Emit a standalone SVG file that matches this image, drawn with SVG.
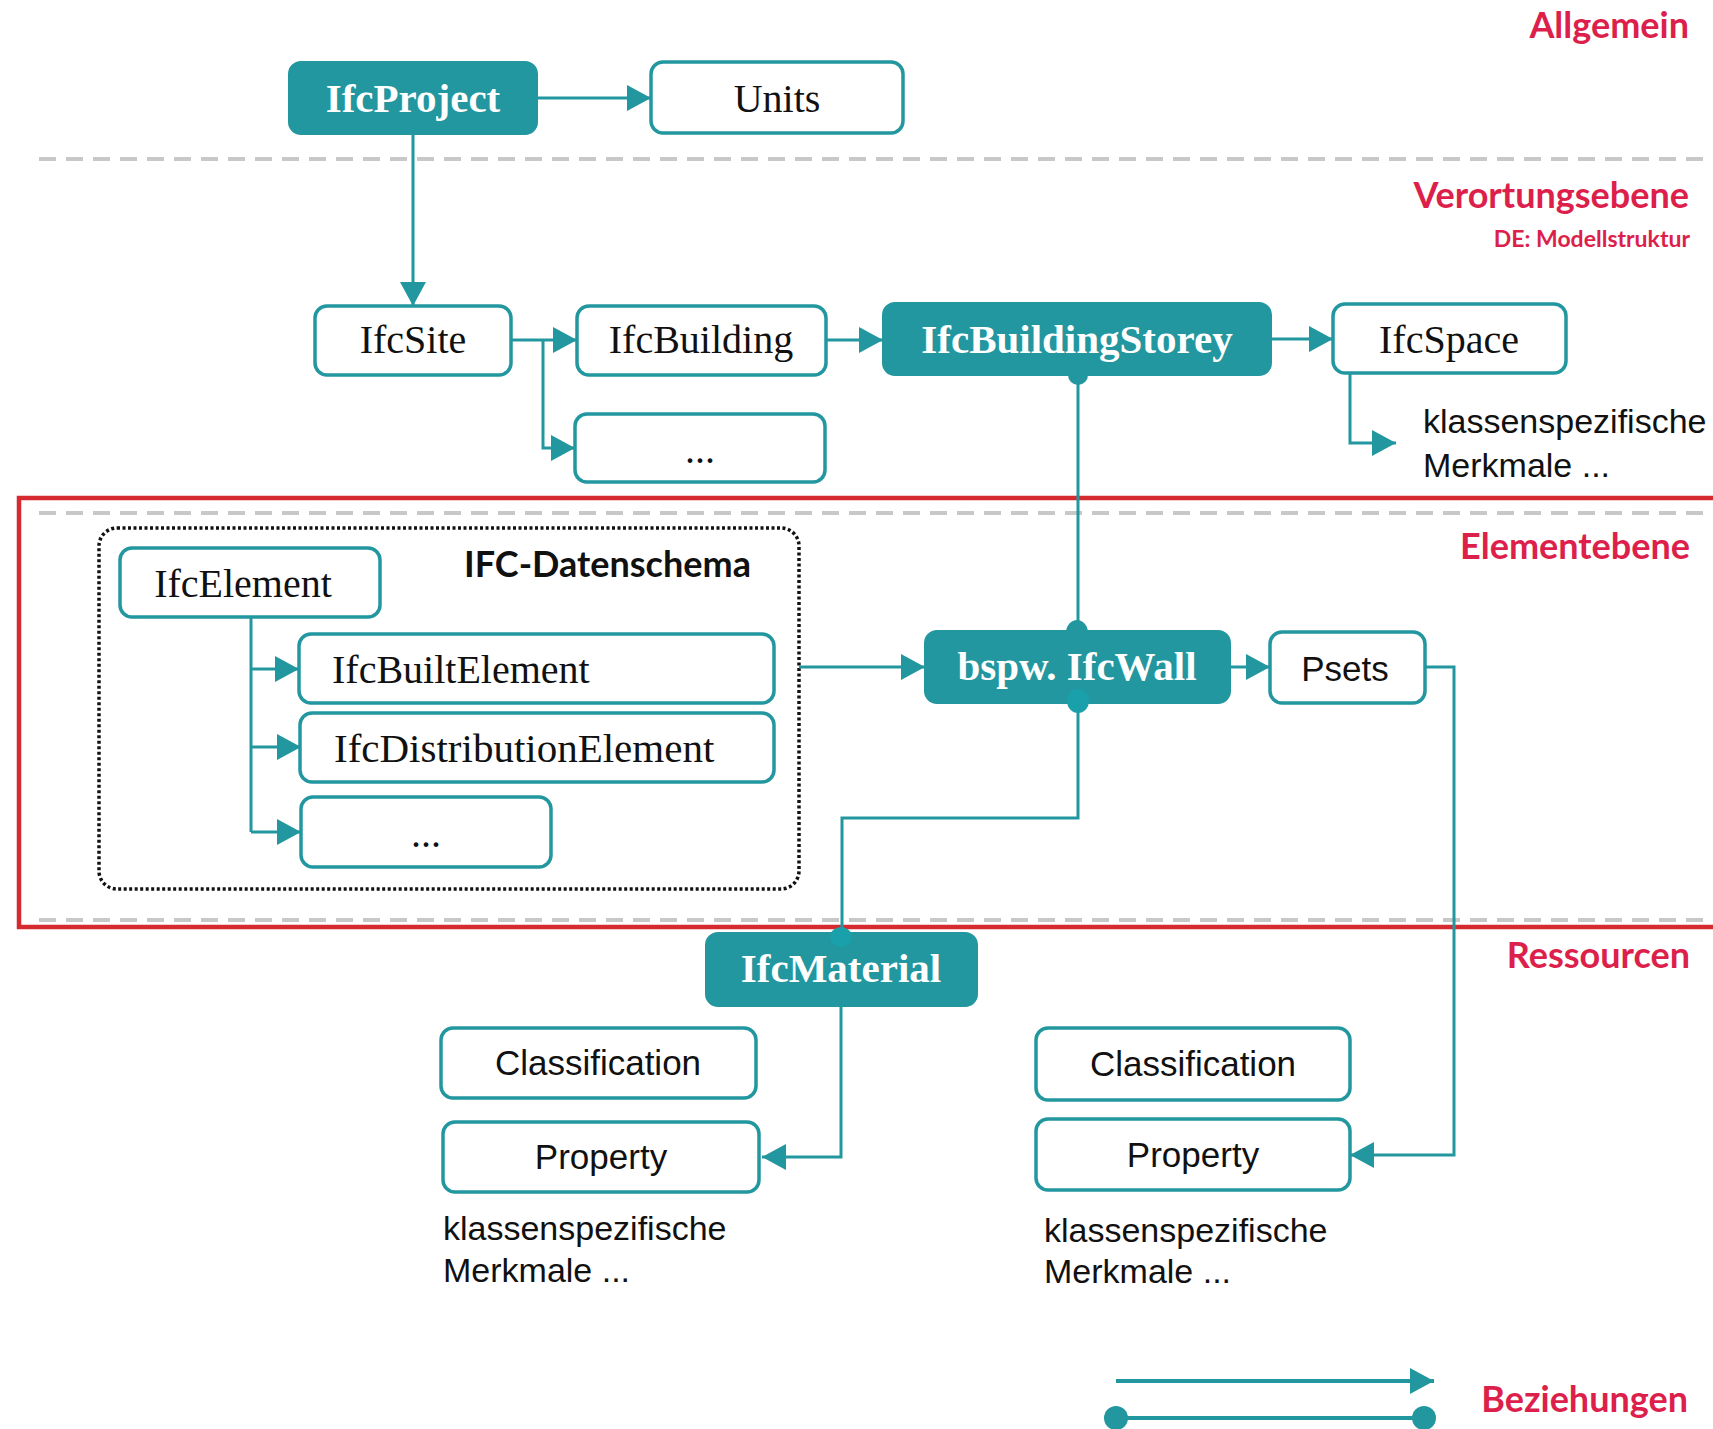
<svg xmlns="http://www.w3.org/2000/svg" width="1713" height="1429" viewBox="0 0 1713 1429">
<style>
.bg{fill:#ffffff}
.sep{stroke:#c8c8c8;stroke-width:4;stroke-dasharray:17 10;fill:none}
.zone{stroke:#d42a30;stroke-width:4.5;fill:none}
.box{fill:#ffffff;stroke:#23979f;stroke-width:3.5}
.fbox{fill:#23979f;stroke:#23979f;stroke-width:2}
.dotted{fill:none;stroke:#111111;stroke-width:3.5;stroke-dasharray:3 2.5}
.serif{font-family:"Liberation Serif","Times New Roman",serif;font-size:40px;fill:#111111}
.serifb{font-family:"Liberation Serif","Times New Roman",serif;font-size:41px;font-weight:bold;fill:#ffffff}
.sans{font-family:"Liberation Sans",Arial,sans-serif;font-size:34px;fill:#111111}
.head{font-family:Lato,"Liberation Sans",sans-serif;font-weight:bold;font-size:36px;fill:#dc1f4b}
.subhead{font-family:Lato,"Liberation Sans",sans-serif;font-weight:bold;font-size:23px;fill:#dc1f4b}
.title{font-family:Lato,"Liberation Sans",sans-serif;font-weight:bold;font-size:36px;fill:#111111}
.c{fill:none;stroke:#23979f;stroke-width:3}
.dot{fill:#1aa0ab}
.mid{text-anchor:middle}
.end{text-anchor:end}
</style>
<defs>
<marker id="arr" markerUnits="userSpaceOnUse" markerWidth="24" markerHeight="26" viewBox="0 0 24 26" refX="24" refY="13" orient="auto">
<path d="M0,0 L24,13 L0,26 Z" fill="#23979f"/>
</marker>
</defs>
<rect class="bg" x="0" y="0" width="1713" height="1429"/>

<g id="layers">
<line class="sep" x1="39" y1="159" x2="1713" y2="159"/>
<line class="sep" x1="39" y1="513" x2="1713" y2="513"/>
<line class="sep" x1="39" y1="920" x2="1713" y2="920"/>
<rect class="zone" x="19" y="498" width="1710" height="429"/>
<text class="head end" x="1689" y="38">Allgemein</text>
<text class="head end" x="1689" y="208">Verortungsebene</text>
<text class="subhead end" x="1690" y="247">DE: Modellstruktur</text>
<text class="head end" x="1690" y="559">Elementebene</text>
<text class="head end" x="1690" y="968">Ressourcen</text>
<text class="head end" x="1688" y="1412">Beziehungen</text>
</g>

<g id="schema">
<rect class="dotted" x="99" y="528" width="700" height="361" rx="18"/>
<text class="title" x="464" y="577">IFC-Datenschema</text>
</g>

<g id="connectors">
<path class="c" d="M537,98 H651" marker-end="url(#arr)"/>
<path class="c" d="M413,134 V306" marker-end="url(#arr)"/>
<path class="c" d="M511,340 H577" marker-end="url(#arr)"/>
<path class="c" d="M543,340 V448 H575" marker-end="url(#arr)"/>
<path class="c" d="M826,340 H883" marker-end="url(#arr)"/>
<path class="c" d="M1271,339 H1333" marker-end="url(#arr)"/>
<path class="c" d="M1350,373 V443 H1396" marker-end="url(#arr)"/>
<path class="c" d="M1078,375 V631"/>
<path class="c" d="M251,617 V832"/>
<path class="c" d="M251,669 H299" marker-end="url(#arr)"/>
<path class="c" d="M251,747 H301" marker-end="url(#arr)"/>
<path class="c" d="M251,832 H301" marker-end="url(#arr)"/>
<path class="c" d="M799,667 H925" marker-end="url(#arr)"/>
<path class="c" d="M1230,667 H1270" marker-end="url(#arr)"/>
<path class="c" d="M1425,667 H1454 V1155 H1350" marker-end="url(#arr)"/>
<path class="c" d="M1078,703 V818 H842 V933"/>
<path class="c" d="M841,1006 V1157 H762" marker-end="url(#arr)"/>
<path class="c" d="M1116,1381 H1434" marker-end="url(#arr)" style="stroke-width:4"/>
<path class="c" d="M1116,1418 H1424" style="stroke-width:4"/>
<ellipse class="dot" cx="1116" cy="1418" rx="12" ry="12" style="fill:#23979f"/>
<ellipse class="dot" cx="1424" cy="1418" rx="12" ry="12" style="fill:#23979f"/>
</g>

<g id="IfcProject"><rect class="fbox" x="289" y="62" width="248" height="72" rx="12"/><text class="serifb mid" x="413" y="112">IfcProject</text></g>
<g id="Units"><rect class="box" x="651" y="62" width="252" height="71" rx="12"/><text class="serif mid" x="777" y="112">Units</text></g>
<g id="IfcSite"><rect class="box" x="315" y="306" width="196" height="69" rx="12"/><text class="serif mid" x="413" y="353">IfcSite</text></g>
<g id="IfcBuilding"><rect class="box" x="577" y="306" width="249" height="69" rx="12"/><text class="serif mid" x="701" y="353">IfcBuilding</text></g>
<g id="SiteMore"><rect class="box" x="575" y="414" width="250" height="68" rx="12"/><text class="serif mid" x="700" y="463">...</text></g>
<g id="IfcBuildingStorey"><rect class="fbox" x="883" y="303" width="388" height="72" rx="12"/><text class="serifb mid" x="1077" y="353">IfcBuildingStorey</text><ellipse class="dot" cx="1078" cy="375" rx="10" ry="10" style="fill:#23979f"/></g>
<g id="IfcSpace"><rect class="box" x="1333" y="304" width="233" height="69" rx="12"/><text class="serif mid" x="1449" y="353">IfcSpace</text></g>
<g id="SpaceNote"><text class="sans" x="1423" y="433">klassenspezifische</text><text class="sans" x="1423" y="477">Merkmale ...</text></g>
<g id="IfcElement"><rect class="box" x="120" y="548" width="260" height="69" rx="12"/><text class="serif mid" x="243" y="597">IfcElement</text></g>
<g id="IfcBuiltElement"><rect class="box" x="299" y="634" width="475" height="69" rx="12"/><text class="serif" x="332" y="683">IfcBuiltElement</text></g>
<g id="IfcDistributionElement"><rect class="box" x="300" y="713" width="474" height="69" rx="12"/><text class="serif" x="334" y="762" style="font-size:41px">IfcDistributionElement</text></g>
<g id="ElementMore"><rect class="box" x="301" y="797" width="250" height="70" rx="12"/><text class="serif mid" x="426" y="847">...</text></g>
<g id="IfcWall"><rect class="fbox" x="925" y="631" width="305" height="72" rx="12"/><text class="serifb mid" x="1077" y="680">bspw. IfcWall</text><ellipse class="dot" cx="1077" cy="633" rx="11" ry="13" style="fill:#23979f"/><ellipse class="dot" cx="1078" cy="701" rx="11" ry="12"/></g>
<g id="Psets"><rect class="box" x="1270" y="632" width="155" height="71" rx="12"/><text class="sans mid" x="1345" y="681" style="font-size:35px">Psets</text></g>
<g id="IfcMaterial"><rect class="fbox" x="706" y="933" width="271" height="73" rx="12"/><text class="serifb mid" x="841" y="982">IfcMaterial</text><ellipse class="dot" cx="841" cy="937" rx="11" ry="10"/></g>
<g id="ClassificationL"><rect class="box" x="441" y="1028" width="315" height="70" rx="12"/><text class="sans mid" x="598" y="1075" style="font-size:35px">Classification</text></g>
<g id="PropertyL"><rect class="box" x="443" y="1122" width="316" height="70" rx="12"/><text class="sans mid" x="601" y="1169" style="font-size:35px">Property</text></g>
<g id="NoteL"><text class="sans" x="443" y="1240">klassenspezifische</text><text class="sans" x="443" y="1282">Merkmale ...</text></g>
<g id="ClassificationR"><rect class="box" x="1036" y="1028" width="314" height="72" rx="12"/><text class="sans mid" x="1193" y="1076" style="font-size:35px">Classification</text></g>
<g id="PropertyR"><rect class="box" x="1036" y="1119" width="314" height="71" rx="12"/><text class="sans mid" x="1193" y="1167" style="font-size:35px">Property</text></g>
<g id="NoteR"><text class="sans" x="1044" y="1242">klassenspezifische</text><text class="sans" x="1044" y="1283">Merkmale ...</text></g>
</svg>
